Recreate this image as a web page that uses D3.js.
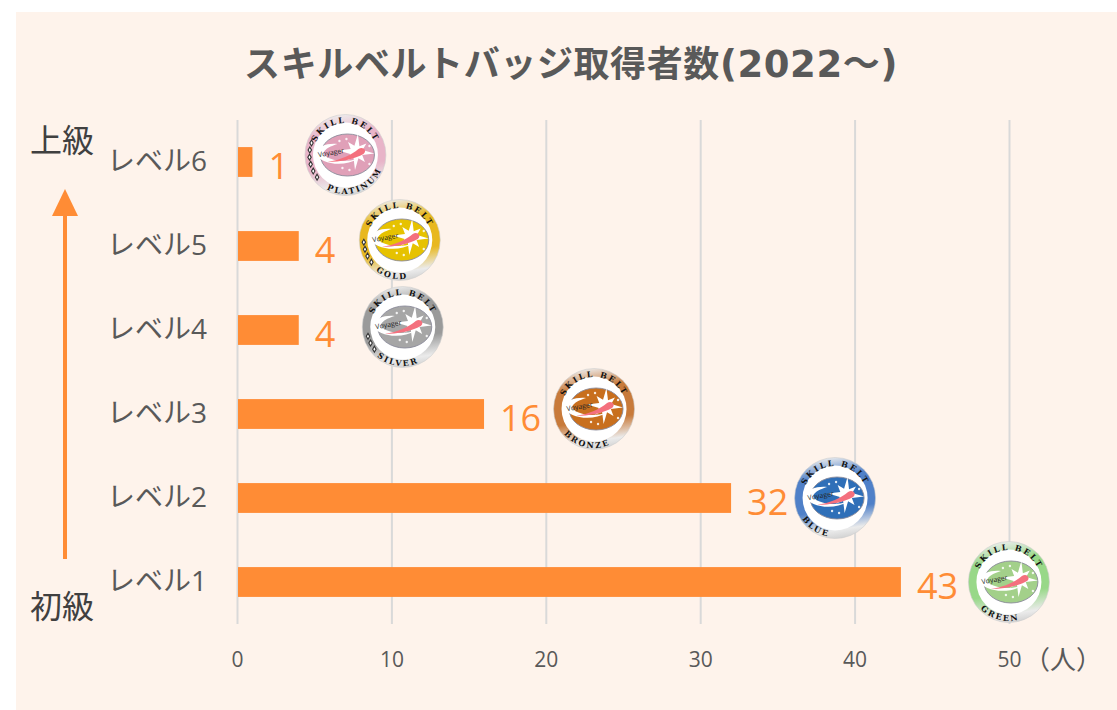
<!DOCTYPE html>
<html>
<head>
<meta charset="utf-8">
<script src="https://cdn.jsdelivr.net/npm/d3@7"></script>
<style>
    html, body { margin: 0; padding: 0; background: #fff; }
    svg { display: block; }
    text { font-family: "Open Sans", "Noto Sans CJK JP", sans-serif; }
</style>
</head>
<body>
<div class="bar_chart"></div>
<script>
const levels = ["レベル6", "レベル5", "レベル4", "レベル3", "レベル2", "レベル1"]
const counts = [1, 4, 4, 16, 32, 43]
const badgeNames = ["PLATINUM", "GOLD", "SILVER", "BRONZE", "BLUE", "GREEN"]
const badgeStars = [6, 4, 3, 0, 0, 0]
const xTicks = [0, 10, 20, 30, 40, 50]

const titleKana = "スキルベルトバッジ取得者数"
const titleYears = "(2022～)"
const unitText = "（人）"
const topLabel = "上級"
const bottomLabel = "初級"

// badge look, same order as levels
const badgeColors = ["#e0a0b8", "#e6c200", "#a6a6a6", "#c86f1e", "#2f6fb8", "#a3d08a"]
const badgeRings = ["#e8b4c8", "#e8b820", "#9a9a9a", "#c87a3a", "#4f80c8", "#98d888"]
// where each badge sits relative to the end of its bar
const badgeShift = [[93, -7], [101, -6], [104, -3], [110, -5], [104, 0], [108, 0]]
// where the name starts along the bottom arc
const badgeNameStart = ["34%", "29%", "27%", "22%", "18%", "24%"]

const orange = "#ff8c35"
const textGrey = "#595959"

const dimensions = {
    width: 1117,
    height: 710,
    margin: { top: 120, right: 108, bottom: 86, left: 237 }
}
dimensions.boundedWidth = dimensions.width - dimensions.margin.left - dimensions.margin.right
dimensions.boundedHeight = dimensions.height - dimensions.margin.top - dimensions.margin.bottom

const wrapper = d3.select(".bar_chart")
    .append("svg")
    .attr("width", dimensions.width)
    .attr("height", dimensions.height)

wrapper.append("rect")
    .attr("x", 16)
    .attr("y", 12)
    .attr("width", dimensions.width - 16)
    .attr("height", dimensions.height - 12)
    .attr("fill", "#fef3eb")

const defs = wrapper.append("defs")

const title = wrapper.append("text")
    .attr("x", 571)
    .attr("y", 77)
    .attr("text-anchor", "middle")
    .attr("font-size", 36)
    .attr("font-weight", 700)
    .attr("letter-spacing", 0.6)
    .attr("fill", textGrey)
    .style("font-family", '"Noto Sans CJK JP", sans-serif')
title.append("tspan").text(titleKana)
title.append("tspan")
    .style("font-family", '"DejaVu Sans", "Noto Sans CJK JP", sans-serif')
    .attr("font-size", 37)
    .text(titleYears)

const bounds = wrapper.append("g")
    .attr("transform", `translate(${dimensions.margin.left}, ${dimensions.margin.top})`)

const xScale = d3.scaleLinear()
    .domain([0, 50])
    .range([0, dimensions.boundedWidth])

const yScale = d3.scaleBand()
    .domain(levels)
    .range([0, dimensions.boundedHeight])
    .paddingInner(0.645)
    .paddingOuter(0.3225)

// gridlines + x axis
const xAxis = bounds.append("g")
    .attr("transform", `translate(0, ${dimensions.boundedHeight})`)
    .call(d3.axisBottom(xScale)
        .tickValues(xTicks)
        .tickSize(-dimensions.boundedHeight)
        .tickPadding(28))
xAxis.select(".domain").remove()
xAxis.selectAll("line").attr("stroke", "#d9d9d9").attr("stroke-width", 2)
xAxis.selectAll("text")
    .attr("font-size", 21)
    .attr("fill", textGrey)
    .style("font-family", '"Open Sans", sans-serif')

wrapper.append("text")
    .attr("x", 1063)
    .attr("y", 669)
    .attr("text-anchor", "middle")
    .attr("font-size", 26)
    .attr("fill", textGrey)
    .text(unitText)

// y axis labels
const yAxis = bounds.append("g")
    .call(d3.axisLeft(yScale).tickSize(0).tickPadding(30))
yAxis.select(".domain").remove()
yAxis.selectAll("text")
    .attr("font-size", 28)
    .attr("fill", textGrey)

// bars
bounds.selectAll("rect.bar")
    .data(counts)
    .join("rect")
    .attr("class", "bar")
    .attr("x", xScale(0) + 1)
    .attr("y", (d, i) => yScale(levels[i]))
    .attr("width", d => xScale(d) - 1)
    .attr("height", yScale.bandwidth())
    .attr("fill", orange)

bounds.selectAll("text.bar_label")
    .data(counts)
    .join("text")
    .attr("class", "bar_label")
    .attr("x", d => xScale(d) + 16)
    .attr("y", (d, i) => yScale(levels[i]) + yScale.bandwidth() / 2)
    .attr("dy", "0.47em")
    .attr("font-size", 36)
    .attr("fill", orange)
    .style("font-family", '"Open Sans", sans-serif')
    .text(d => d)

// arrow on the left
wrapper.append("line")
    .attr("x1", 65).attr("x2", 65)
    .attr("y1", 559).attr("y2", 212)
    .attr("stroke", orange)
    .attr("stroke-width", 4)
wrapper.append("path")
    .attr("d", "M65,189 L78,216 L52,216 Z")
    .attr("fill", orange)

wrapper.append("text")
    .attr("x", 62).attr("y", 152)
    .attr("text-anchor", "middle")
    .attr("font-size", 32)
    .attr("fill", "#404040")
    .text(topLabel)
wrapper.append("text")
    .attr("x", 62).attr("y", 618)
    .attr("text-anchor", "middle")
    .attr("font-size", 32)
    .attr("fill", "#404040")
    .text(bottomLabel)

// badges
const badge = bounds.selectAll("g.badge")
    .data(counts)
    .join("g")
    .attr("class", "badge")
    .attr("transform", (d, i) => {
        const cx = xScale(d) + badgeShift[i][0]
        const cy = yScale(levels[i]) + yScale.bandwidth() / 2 + badgeShift[i][1]
        return `translate(${cx}, ${cy})`
    })

badgeNames.forEach((name, i) => {
    const grad = defs.append("linearGradient")
        .attr("id", "ring" + i)
        .attr("x1", 0.35).attr("y1", 0).attr("x2", 0.5).attr("y2", 1)
    grad.append("stop").attr("offset", "0%").attr("stop-color", "#eeeeee")
    grad.append("stop").attr("offset", "25%").attr("stop-color", badgeRings[i])
    grad.append("stop").attr("offset", "65%").attr("stop-color", badgeRings[i])
    grad.append("stop").attr("offset", "90%").attr("stop-color", "#ebebeb")
    grad.append("stop").attr("offset", "100%").attr("stop-color", "#d4d4d4")
})

defs.append("path").attr("id", "arcTop").attr("d", "M-32,0 A32,32 0 0 1 32,0")
defs.append("path").attr("id", "arcBottom").attr("d", "M-39,0 A39,39 0 0 0 39,0")

badge.append("circle")
    .attr("r", 40.5)
    .attr("fill", (d, i) => `url(#ring${i})`)
    .attr("stroke", "#cfcfcf")
    .attr("stroke-width", 0.6)

badge.append("circle")
    .attr("r", 32.5)
    .attr("fill", "#ffffff")

badge.append("ellipse")
    .attr("cx", 2)
    .attr("cy", 0)
    .attr("rx", 27)
    .attr("ry", 21)
    .attr("fill", (d, i) => badgeColors[i])
    .attr("stroke", "#8a8a9a")
    .attr("stroke-width", 0.9)

// small specks inside the oval
const specks = [[-6, -14], [1, -16], [-3, 13], [4, 15], [24, 9], [24, -9]]
badge.selectAll("circle.speck")
    .data(specks)
    .join("circle")
    .attr("class", "speck")
    .attr("cx", d => d[0])
    .attr("cy", d => d[1])
    .attr("r", 1.2)
    .attr("fill", "#ffffff")
    .attr("opacity", 0.85)

// white swoosh behind the word
badge.append("path")
    .attr("d", "M-30,-2 C-27,-9 -18,-12 -8,-11 C-18,-8 -25,-3 -20,1 C-12,7 2,7 12,4 C0,12 -26,10 -30,-2 Z")
    .attr("fill", "#ffffff")

// star, long arms on the axes and shorter ones on the diagonals
const starRadii = [18, 6.5, 13, 6.5]
badge.append("path")
    .attr("d", d3.lineRadial()
        .angle(i => i * Math.PI / 8 + 0.08)
        .radius(i => starRadii[i % 4])
        .curve(d3.curveLinearClosed)(d3.range(16)))
    .attr("transform", "translate(11, -3)")
    .attr("fill", "#ffffff")

// comet
badge.append("path")
    .attr("d", "M-18,7 C-5,5 6,0 13,-6 C18,-9 22,-4 18,-1 C10,4 -6,7 -18,7 Z")
    .attr("fill", "#f4707e")

badge.append("text")
    .attr("x", -14)
    .attr("y", 0)
    .attr("text-anchor", "middle")
    .attr("transform", "rotate(-10, -14, 0)")
    .attr("font-size", 7)
    .attr("fill", "#222222")
    .text("Voyager")

badge.append("text")
    .attr("font-size", 8)
    .attr("font-weight", 700)
    .attr("letter-spacing", 2)
    .attr("fill", "#111111")
    .style("font-family", '"DejaVu Serif", serif')
    .append("textPath")
    .attr("href", "#arcTop")
    .attr("startOffset", "50%")
    .attr("text-anchor", "middle")
    .text("SKILL BELT")

badge.append("text")
    .attr("font-size", 8)
    .attr("font-weight", 700)
    .attr("letter-spacing", 2)
    .attr("fill", "#111111")
    .style("font-family", '"DejaVu Serif", serif')
    .append("textPath")
    .attr("href", "#arcBottom")
    .attr("startOffset", (d, i) => badgeNameStart[i])
    .text((d, i) => badgeNames[i])

// little diamonds down the left side of the top three badges
badge.selectAll("path.rank")
    .data((d, i) => d3.range(badgeStars[i]))
    .join("path")
    .attr("class", "rank")
    .attr("d", d3.symbol(d3.symbolDiamond, 10))
    .attr("transform", d => {
        const a = (38 - d * 11.5) * Math.PI / 180
        return `translate(${-36 * Math.cos(a)}, ${36 * Math.sin(a)})`
    })
    .attr("fill", "#ffffff")
    .attr("stroke", "#333333")
    .attr("stroke-width", 1.1)
</script>
</body>
</html>
